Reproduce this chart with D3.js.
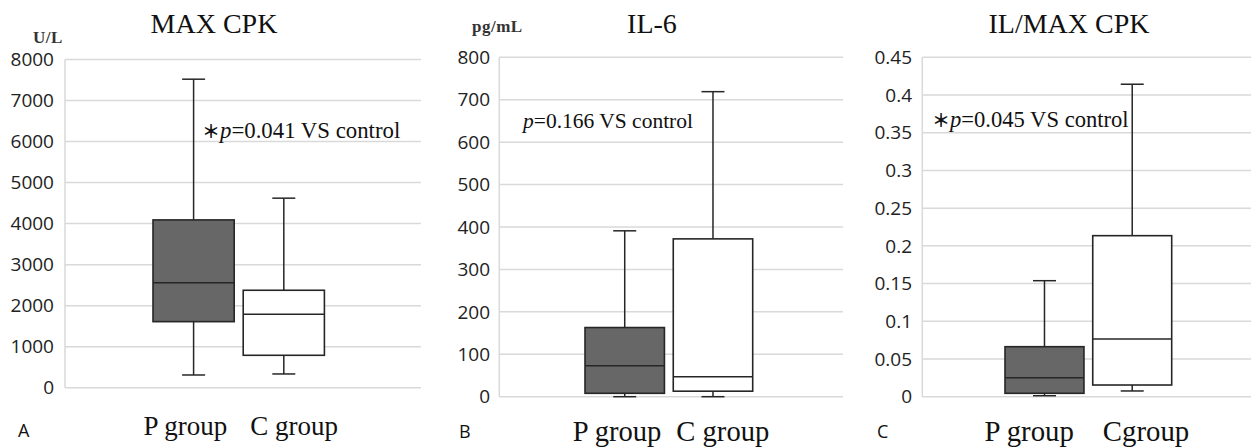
<!DOCTYPE html>
<html lang="en">
<head>
  <meta charset="UTF-8" />
  <title>CPK / IL-6 box plots</title>
  <script src="https://d3js.org/d3.v7.min.js"></script>
  <style>
    body {
      margin: 0;
      overflow: hidden;
      background: #fff;
    }
    .grid line {
      stroke: #d9d9d9;
      stroke-width: 1.5px;
    }
    .tick-label {
      font-family: "Open Sans", sans-serif;
      font-size: 19px;
      fill: #222;
    }
    .serif {
      font-family: "Liberation Serif", "Times New Roman", serif;
      fill: #111;
    }
    .unit {
      font-family: "Liberation Serif", "Times New Roman", serif;
      font-size: 17px;
      font-weight: bold;
      letter-spacing: 0.5px;
      fill: #333;
    }
    .box {
      stroke: #262626;
      stroke-width: 1.6px;
    }
    .whisker {
      stroke: #262626;
      stroke-width: 1.5px;
    }
    .letter {
      font-family: "Open Sans", sans-serif;
      font-size: 18px;
      fill: #111;
    }
  </style>
</head>
<body>
<svg width="1251" height="448"></svg>
<script>
// data: [min, q1, median, q3, max]
const categories = ["P group", "C group"];
const categoryLabels = [["P group", "C group"], ["P group", "C group"], ["P group", "Cgroup"]];
const panelLetters = ["A", "B", "C"];
const titles = ["MAX CPK", "IL-6", "IL/MAX CPK"];
const units = ["U/L", "pg/mL", ""];
const pValues = ["0.041", "0.166", "0.045"];
const significant = [true, false, true];

const cpkStats = [[310, 1610, 2560, 4090, 7520], [335, 790, 1790, 2375, 4620]];
const il6Stats = [[0, 8, 73, 163, 391], [0, 13, 47, 372, 719]];
const ratioStats = [[0.0013, 0.0045, 0.0252, 0.0663, 0.1538], [0.0076, 0.0155, 0.0765, 0.2135, 0.4143]];

const cpkTicks = [0, 1000, 2000, 3000, 4000, 5000, 6000, 7000, 8000];
const il6Ticks = [0, 100, 200, 300, 400, 500, 600, 700, 800];
const ratioTicks = [0, 0.05, 0.1, 0.15, 0.2, 0.25, 0.3, 0.35, 0.4, 0.45];

const stats = [cpkStats, il6Stats, ratioStats];
const ticks = [cpkTicks, il6Ticks, ratioTicks];
const fills = ["#676767", "#ffffff"];

// layout of each panel (pixels)
const layout = [
  { gx0: 65, gx1: 421, top: 59.5, bottom: 387.7, bx0: 153, bx1: 324.4, tickX: 54,
    titleX: 214, titleY: 33, unitX: 33, unitY: 43, noteX: 202, noteY: 138, noteSize: 22.8,
    labelGap: 23, labelY: 435, labelSize: 27, letterX: 18, letterY: 437 },
  { gx0: 499.3, gx1: 843, top: 57.3, bottom: 396.7, bx0: 585, bx1: 752.7, tickX: 490,
    titleX: 652, titleY: 33, unitX: 472, unitY: 32, noteX: 523, noteY: 128, noteSize: 21.5,
    labelGap: 15, labelY: 441, labelSize: 28.6, letterX: 459, letterY: 438 },
  { gx0: 922.3, gx1: 1251, top: 57.3, bottom: 396.7, bx0: 1005, bx1: 1171.7, tickX: 912,
    titleX: 1069, titleY: 33, unitX: 0, unitY: 0, noteX: 932, noteY: 127, noteSize: 22.6,
    labelGap: 29, labelY: 441, labelSize: 28.8, letterX: 877, letterY: 438 }
];

const svg = d3.select("svg");

layout.forEach((L, i) => {
  const g = svg.append("g");
  const tv = ticks[i];

  const y = d3.scaleLinear()
    .domain([0, tv[tv.length - 1]])
    .range([L.bottom, L.top]);

  const x = d3.scaleBand()
    .domain(categories)
    .range([L.bx0, L.bx1])
    .paddingInner(0.1);

  // grid
  const grid = g.append("g").attr("class", "grid");
  grid.selectAll("line.h")
    .data(tv)
    .enter()
    .append("line")
    .attr("class", "h")
    .attr("x1", L.gx0)
    .attr("x2", L.gx1)
    .attr("y1", d => y(d))
    .attr("y2", d => y(d));
  grid.append("line")
    .attr("x1", L.gx0).attr("x2", L.gx0)
    .attr("y1", y(tv[tv.length - 1])).attr("y2", y(0));

  // tick labels
  g.selectAll(".tick-label")
    .data(tv)
    .enter()
    .append("text")
    .attr("class", "tick-label")
    .attr("x", L.tickX)
    .attr("y", d => y(d))
    .attr("dy", "0.35em")
    .attr("text-anchor", "end")
    .text(d => d);

  // boxes
  const capW = 23;
  const boxes = g.selectAll(".bp")
    .data(stats[i])
    .enter()
    .append("g")
    .attr("class", "bp");

  boxes.each(function(s, j) {
    const b = d3.select(this);
    const cx = x(categories[j]) + x.bandwidth() / 2;
    // whiskers
    b.append("line").attr("class", "whisker")
      .attr("x1", cx).attr("x2", cx).attr("y1", y(s[4])).attr("y2", y(s[3]));
    b.append("line").attr("class", "whisker")
      .attr("x1", cx).attr("x2", cx).attr("y1", y(s[1])).attr("y2", y(s[0]));
    b.append("line").attr("class", "whisker")
      .attr("x1", cx - capW / 2).attr("x2", cx + capW / 2).attr("y1", y(s[4])).attr("y2", y(s[4]));
    b.append("line").attr("class", "whisker")
      .attr("x1", cx - capW / 2).attr("x2", cx + capW / 2).attr("y1", y(s[0])).attr("y2", y(s[0]));
    // box
    b.append("rect").attr("class", "box")
      .attr("x", x(categories[j]))
      .attr("width", x.bandwidth())
      .attr("y", y(s[3]))
      .attr("height", y(s[1]) - y(s[3]))
      .attr("fill", fills[j]);
    // median
    b.append("line").attr("class", "box")
      .attr("stroke-width", 2)
      .attr("x1", x(categories[j])).attr("x2", x(categories[j]) + x.bandwidth())
      .attr("y1", y(s[2])).attr("y2", y(s[2]));
  });

  // title + unit
  g.append("text").attr("class", "serif")
    .attr("x", L.titleX).attr("y", L.titleY)
    .attr("text-anchor", "middle")
    .style("font-size", "28px")
    .text(titles[i]);
  if (units[i]) {
    g.append("text").attr("class", "unit")
      .attr("x", L.unitX).attr("y", L.unitY)
      .text(units[i]);
  }

  // p-value note
  const note = g.append("text").attr("class", "serif")
    .attr("x", L.noteX).attr("y", L.noteY)
    .style("font-size", L.noteSize + "px");
  if (significant[i]) {
    note.append("tspan")
      .style("font-family", "'Noto Sans CJK JP', sans-serif")
      .style("font-weight", "bold")
      .style("font-size", "18px")
      .text("\uFF0A");
  }
  note.append("tspan").style("font-style", "italic").text("p");
  note.append("tspan").text("=" + pValues[i] + " VS control");

  // category labels
  const mid = (x(categories[0]) + x.bandwidth() + x(categories[1])) / 2;
  g.append("text").attr("class", "serif")
    .attr("x", mid - L.labelGap / 2).attr("y", L.labelY)
    .attr("text-anchor", "end")
    .style("font-size", L.labelSize + "px")
    .text(categoryLabels[i][0]);
  g.append("text").attr("class", "serif")
    .attr("x", mid + L.labelGap / 2).attr("y", L.labelY)
    .attr("text-anchor", "start")
    .style("font-size", L.labelSize + "px")
    .text(categoryLabels[i][1]);

  // panel letter
  g.append("text").attr("class", "letter")
    .attr("x", L.letterX).attr("y", L.letterY)
    .text(panelLetters[i]);
});
</script>
</body>
</html>
